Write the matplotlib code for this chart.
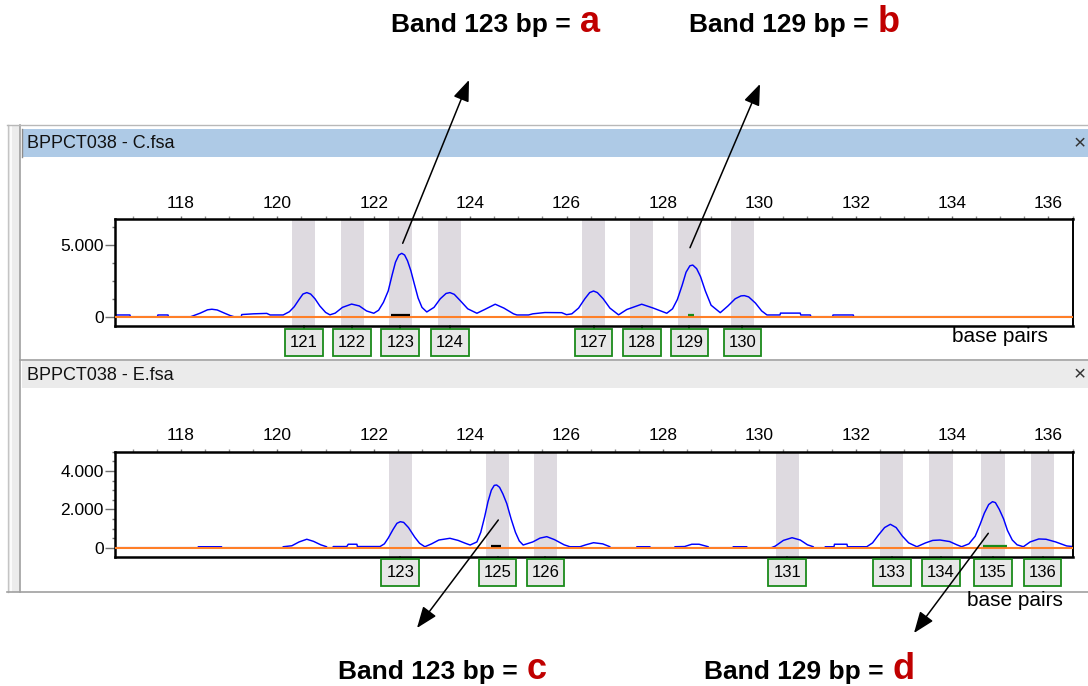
import matplotlib
matplotlib.use('Agg')
import matplotlib.pyplot as plt
from matplotlib.patches import Rectangle, FancyArrowPatch
from matplotlib.transforms import blended_transform_factory
from matplotlib.ticker import MultipleLocator

plt.rcParams['font.family'] = ['Liberation Sans', 'DejaVu Sans']

W, H = 1088, 686

# ---------------- data ----------------
x_ticks = [118, 120, 122, 124, 126, 128, 130, 132, 134, 136]

# sample C (upper panel)
c_bins = [120.55, 121.55, 122.55, 123.58, 126.56, 127.56, 128.55, 129.65]
c_bin_labels = ['121', '122', '123', '124', '127', '128', '129', '130']
c_bp = [116.63, 116.94, 116.95, 117.51, 117.52, 117.73, 117.74, 118.2, 118.25, 118.4,
        118.55, 118.64, 118.75, 118.9, 119.02, 119.1, 119.25, 119.26, 119.5, 119.78,
        119.85, 120.12, 120.25, 120.35, 120.45, 120.53, 120.61, 120.69, 120.78, 120.88,
        121.0, 121.09, 121.2, 121.35, 121.54, 121.7, 121.85, 122.0, 122.1, 122.2,
        122.3, 122.38, 122.45, 122.52, 122.58, 122.64, 122.7, 122.77, 122.84, 122.92,
        123.0, 123.1, 123.25, 123.38, 123.5, 123.58, 123.67, 123.8, 123.95, 124.14,
        124.3, 124.52, 124.7, 124.9, 124.97, 125.21, 125.3, 125.55, 125.9, 126.0,
        126.11, 126.25, 126.38, 126.48, 126.56, 126.64, 126.76, 126.9, 127.08, 127.25,
        127.56, 127.8, 128.08, 128.2, 128.3, 128.4, 128.48, 128.56, 128.62, 128.7,
        128.78, 128.88, 129.0, 129.19, 129.35, 129.5, 129.62, 129.69, 129.78, 129.92,
        130.05, 130.16, 130.43, 130.44, 130.85, 130.86, 131.06, 131.07, 131.52, 131.53,
        131.95, 131.96, 136.52]
c_rfu = [120, 120, 0, 0, 120, 120, 0, 0, 60, 250,
         480, 520, 470, 250, 80, 0, 0, 150, 200, 230,
         120, 120, 350, 700, 1200, 1580, 1680, 1580, 1250, 750,
         300, 130, 250, 650, 880, 750, 400, 240, 450, 1000,
         1800, 2900, 3800, 4300, 4420, 4300, 3900, 3200, 2300, 1300,
         650, 330, 650, 1250, 1620, 1680, 1560, 1100, 550, 240,
         500, 870, 600, 200, 120, 120, 200, 290, 280, 140,
         200, 600, 1250, 1680, 1790, 1680, 1250, 600, 130, 500,
         870, 600, 240, 550, 1200, 2200, 3100, 3550, 3600, 3350,
         2800, 1800, 800, 280, 750, 1250, 1450, 1470, 1380, 950,
         400, 120, 120, 250, 250, 120, 120, 0, 0, 120,
         120, 0, 0]
c_call_start = [122.35, 128.52]
c_call_end = [122.75, 128.65]
c_call_color = ['black', '#1a8a1a']
c_yticks = [0, 5000]
c_ytick_labels = ['0', '5.000']

# sample E (lower panel)
e_bins = [122.55, 124.57, 125.56, 130.58, 132.75, 133.77, 134.85, 135.88]
e_bin_labels = ['123', '125', '126', '131', '133', '134', '135', '136']
e_bp = [116.63, 118.35, 118.36, 118.84, 118.85, 120.11, 120.12, 120.3, 120.45, 120.61,
        120.75, 120.9, 121.02, 121.03, 121.15, 121.16, 121.44, 121.47, 121.65, 121.66,
        122.13, 122.22, 122.3, 122.4, 122.48, 122.55, 122.62, 122.72, 122.85, 122.95,
        123.06, 123.2, 123.35, 123.58, 123.75, 123.9, 124.0, 124.14, 124.22, 124.3,
        124.37, 124.44, 124.5, 124.55, 124.61, 124.68, 124.76, 124.85, 124.94, 125.02,
        125.1, 125.3, 125.45, 125.59, 125.75, 125.95, 126.07, 126.28, 126.4, 126.56,
        126.75, 126.9, 126.91, 127.45, 127.46, 127.73, 127.74, 128.24, 128.25, 128.45,
        128.6, 128.75, 128.94, 128.95, 129.45, 129.46, 129.74, 129.75, 130.25, 130.33,
        130.5, 130.68, 130.85, 131.0, 131.12, 131.13, 131.36, 131.37, 131.55, 131.56,
        131.82, 131.83, 132.23, 132.35, 132.47, 132.6, 132.72, 132.84, 132.97, 133.1,
        133.27, 133.45, 133.6, 133.75, 133.95, 134.1, 134.2, 134.35, 134.48, 134.58,
        134.67, 134.76, 134.84, 134.9, 134.98, 135.07, 135.15, 135.25, 135.35, 135.48,
        135.62, 135.8, 135.95, 136.15, 136.38, 136.51]
e_rfu = [0, 0, 50, 50, 0, 0, 50, 100, 300, 440,
         330, 150, 50, 0, 0, 60, 60, 180, 180, 60,
         60, 200, 500, 950, 1270, 1355, 1320, 1050, 550, 230,
         50, 200, 400, 490, 380, 230, 140, 300, 800, 1600,
         2400, 3000, 3250, 3270, 3150, 2800, 2300, 1500, 800, 350,
         140, 300, 500, 575, 420, 150, 50, 50, 150, 260,
         200, 50, 0, 0, 50, 50, 0, 0, 50, 60,
         180, 180, 50, 0, 0, 50, 50, 0, 0, 80,
         380, 520, 400, 150, 50, 0, 0, 50, 50, 180,
         180, 50, 50, 250, 650, 1050, 1220, 1050, 600, 250,
         50, 250, 380, 400, 320, 150, 50, 200, 600, 1200,
         1800, 2250, 2400, 2350, 2000, 1500, 900, 400, 150, 50,
         300, 455, 440, 300, 90, 60]
e_call_start = [124.43, 134.64]
e_call_end = [124.63, 135.14]
e_call_color = ['black', '#1a8a1a']
e_yticks = [0, 2000, 4000]
e_ytick_labels = ['0', '2.000', '4.000']

bands = [('Band 123 bp = ', 'a'), ('Band 129 bp = ', 'b'),
         ('Band 123 bp = ', 'c'), ('Band 129 bp = ', 'd')]

# ---------------- figure ----------------
fig = plt.figure(figsize=(W / 100, H / 100), dpi=100)
fig.patch.set_facecolor('white')

bg = fig.add_axes([0, 0, 1, 1])
bg.set_xlim(0, W)
bg.set_ylim(H, 0)
bg.axis('off')

# window frame
bg.add_patch(Rectangle((8, 125), 12, 467, facecolor='#ececec', edgecolor='none'))
bg.plot([11, 11], [125, 592], color='white', lw=1.2)
bg.plot([7.5, 7.5], [125, 592], color='#c4c4c4', lw=1)
bg.plot([20, 20], [125, 592], color='#a0a0a0', lw=1.2)
bg.plot([7, W], [125, 125], color='#b8b8b8', lw=1)
bg.plot([7, W], [591.5, 591.5], color='#a0a0a0', lw=1.2)
bg.plot([20, W], [360, 360], color='#a0a0a0', lw=1.2)

# title bars
bg.add_patch(Rectangle((22, 129), W - 22, 27.5, facecolor='#aecae6', edgecolor='none'))
bg.plot([22, 22], [129, 156.5], color='#8c8c8c', lw=1)
bg.add_patch(Rectangle((22, 361), W - 22, 27, facecolor='#ebebeb', edgecolor='none'))
bg.text(27, 143.5, 'BPPCT038 - C.fsa', fontsize=13, va='center', ha='left', color='#111111')
bg.text(27, 375, 'BPPCT038 - E.fsa', fontsize=13, va='center', ha='left', color='#111111')
bg.text(1080, 143.5, '×', fontsize=15, va='center', ha='center', color='#333333')
bg.text(1080, 375, '×', fontsize=15, va='center', ha='center', color='#333333')

bg.text(1000, 337, 'base pairs', fontsize=15, va='center', ha='center')
bg.text(1015, 600, 'base pairs', fontsize=15, va='center', ha='center')


def draw_panel(rect_px, bp, rfu, bins, bin_labels, calls, yticks, ytick_labels,
               ylim, yminor, box_top):
    left, top, right, bottom = rect_px
    ax = fig.add_axes([left / W, 1 - bottom / H, (right - left) / W, (bottom - top) / H])
    ax.set_facecolor('white')
    for b in bins:
        ax.axvspan(b - 0.24, b + 0.24, color='#dedae0', zorder=0.5, lw=0)
    ax.plot(bp, rfu, color='#0000ff', lw=1.05, zorder=2)
    ax.axhline(0, color='#ff7f27', lw=1.5, zorder=3)
    for s, e, col in zip(*calls):
        ax.plot([s, e], [110, 110], color=col, lw=1.6, zorder=4, solid_capstyle='butt')

    ax.set_xlim(116.63, 136.51)
    ax.set_ylim(*ylim)
    ax.xaxis.tick_top()
    ax.set_xticks(x_ticks)
    ax.xaxis.set_minor_locator(MultipleLocator(0.5))
    ax.set_yticks(yticks, ytick_labels)
    ax.yaxis.set_minor_locator(MultipleLocator(yminor))
    ax.tick_params(axis='x', which='major', direction='out', length=2.5, width=1,
                   color='#707070', pad=3.5, labelsize=12.5)
    ax.tick_params(axis='x', which='minor', direction='out', length=2, width=1, color='#909090')
    ax.tick_params(axis='y', which='major', direction='out', length=7, width=1,
                   color='#707070', pad=1, labelsize=12.5)
    ax.tick_params(axis='y', which='minor', direction='out', length=2.5, width=1, color='#707070')
    for sp in ax.spines.values():
        sp.set_linewidth(1.8)
        sp.set_color('black')
    ax.spines['right'].set_linewidth(1.4)

    # bin labels below the axes
    tr = blended_transform_factory(ax.transData, bg.transData)
    for b, lab in zip(bins, bin_labels):
        ax.plot([b, b], [bottom, box_top], transform=tr, color='#1a8a1a', lw=1.2,
                clip_on=False)
        ax.add_patch(Rectangle((b - 0.39, box_top), 0.78, 26.5, transform=tr,
                               facecolor='#e8e8e8', edgecolor='#1a8a1a', lw=1.3,
                               clip_on=False, zorder=5))
        ax.text(b, box_top + 13.5, lab, transform=tr, ha='center', va='center',
                fontsize=12, clip_on=False, zorder=6)
    ax.set_xlim(116.63, 136.51)
    return ax


ax1 = draw_panel((115, 219.3, 1073, 325.7), c_bp, c_rfu, c_bins, c_bin_labels,
                 (c_call_start, c_call_end, c_call_color), c_yticks, c_ytick_labels,
                 (-628, 6792), 1250, 329)
ax2 = draw_panel((115, 451.7, 1073, 556.7), e_bp, e_rfu, e_bins, e_bin_labels,
                 (e_call_start, e_call_end, e_call_color), e_yticks, e_ytick_labels,
                 (-470, 5006), 500, 559)

# overlay: arrows and band captions
ov = fig.add_axes([0, 0, 1, 1])
ov.set_xlim(0, W)
ov.set_ylim(H, 0)
ov.axis('off')

arrows = [((402.7, 243.3), (469, 80)), ((690, 247.7), (760, 84)),
          ((498.3, 520), (417, 628)), ((988.3, 533.3), (914, 633))]
for tail, head in arrows:
    ov.add_patch(FancyArrowPatch(tail, head, arrowstyle='-|>,head_length=13,head_width=5',
                                 mutation_scale=1, color='black', lw=1.1,
                                 shrinkA=0, shrinkB=0))

# red letter goes right after the measured end of the black caption
band_pos = [(391, 31.7), (689, 31.7), (338, 679), (704, 679)]
fig.canvas.draw()
renderer = fig.canvas.get_renderer()
for (txt, letter), (x, y) in zip(bands, band_pos):
    t = ov.text(x, y, txt, fontsize=19, fontweight='bold', ha='left', va='baseline')
    ext = t.get_window_extent(renderer)
    ov.text(ext.x1 + 2, y, letter, fontsize=26, fontweight='bold', color='#c00000',
            ha='left', va='baseline')

fig.savefig('out.png', dpi=100)
